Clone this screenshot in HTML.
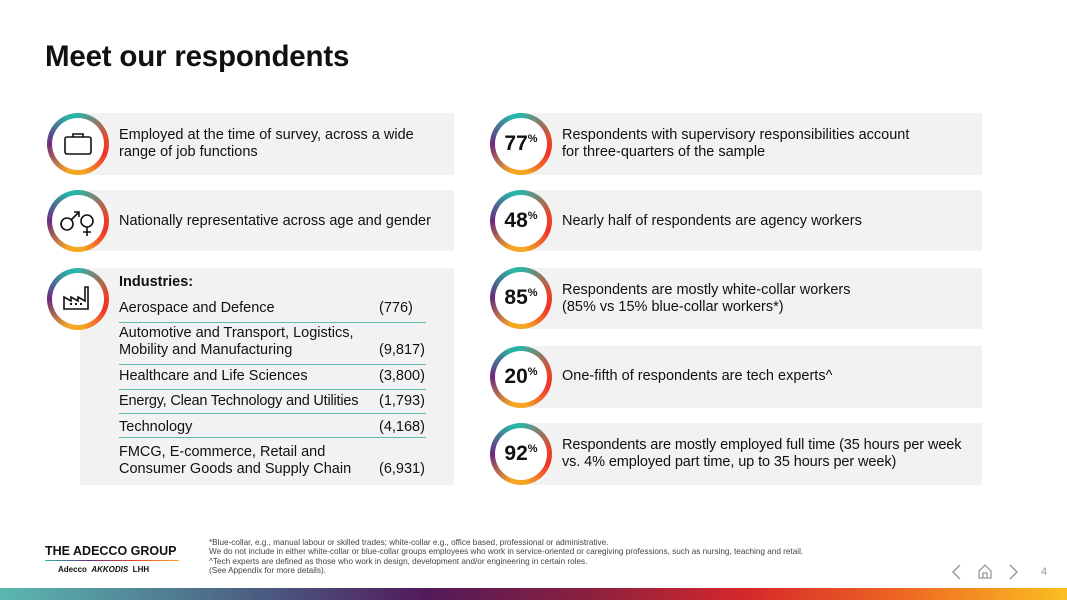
<!DOCTYPE html>
<html><head><meta charset="utf-8"><style>
*{margin:0;padding:0;box-sizing:border-box}
body{width:1067px;height:600px;overflow:hidden;background:#fff;font-family:"Liberation Sans",sans-serif;color:#111;position:relative}
.abs{position:absolute}
h1{position:absolute;left:45px;top:40px;font-size:29.5px;font-weight:bold;letter-spacing:-0.2px}
.card{position:absolute;background:#f2f2f2}
.ring{position:absolute;width:62px;height:62px;border-radius:50%;background:conic-gradient(from 0deg,#2bb3a8 0deg,#e8452a 80deg,#f0302a 110deg,#f5a623 170deg,#f5a623 200deg,#6b2a80 270deg,#2bb3a8 340deg)}
.ring::after{content:"";position:absolute;left:5px;top:5px;right:5px;bottom:5px;border-radius:50%;background:#fff}
.ring>*{position:relative;z-index:1}
.pct{position:absolute;left:0;right:0;top:19px;text-align:center;font-size:21px;font-weight:bold;z-index:2}
.pct sup{font-size:11px;vertical-align:8px}
.t{position:absolute;font-size:14.5px;line-height:17px}
.ln{position:absolute;left:119px;width:307px;height:1px;background:#5fb8b0}
.foot{position:absolute;left:209px;top:538px;font-size:8.2px;line-height:9.4px;color:#444;white-space:nowrap}
</style></head><body>
<h1>Meet our respondents</h1>

<div class="card" style="left:80px;top:113px;width:374px;height:62px"></div>
<div class="card" style="left:80px;top:190px;width:374px;height:61px"></div>
<div class="card" style="left:80px;top:268px;width:374px;height:217px"></div>

<div class="ring" style="left:47px;top:113px">
<svg class="abs" style="left:16px;top:19px;z-index:2" width="30" height="24" viewBox="0 0 30 24"><rect x="2" y="5" width="26" height="17" rx="2" fill="none" stroke="#111" stroke-width="1.6"/><path d="M10 5V2h10v3" fill="none" stroke="#111" stroke-width="1.6"/></svg></div>
<div class="ring" style="left:47px;top:190px">
<svg class="abs" style="left:10px;top:14px;z-index:2" width="42" height="34" viewBox="0 0 42 34"><circle cx="10" cy="20" r="6" fill="none" stroke="#111" stroke-width="1.6"/><path d="M14 16l8-8M17 8h5v5" fill="none" stroke="#111" stroke-width="1.6"/><circle cx="30" cy="17" r="6" fill="none" stroke="#111" stroke-width="1.6"/><path d="M30 23v9M26 28h8" stroke="#111" stroke-width="1.6"/></svg></div>
<div class="ring" style="left:47px;top:268px">
<svg class="abs" style="left:15px;top:15px;z-index:2" width="32" height="30" viewBox="0 0 32 30"><path d="M2 26V14l7 4v-4l7 4v-4l7 4V4h3v22z" fill="none" stroke="#111" stroke-width="1.6"/><rect x="8" y="20" width="2" height="2" fill="#111"/><rect x="13" y="20" width="2" height="2" fill="#111"/><rect x="18" y="20" width="2" height="2" fill="#111"/></svg></div>

<div class="t" style="left:119px;top:127px">Employed at the time of survey, across a wide<br>range of job functions</div>
<div class="t" style="left:119px;top:213px">Nationally representative across age and gender</div>
<div class="t" style="left:119px;top:274px;font-weight:bold">Industries:</div>
<div class="t" style="left:119px;top:300px">Aerospace and Defence</div><div class="t" style="left:379px;top:300px">(776)</div>
<div class="ln" style="top:322px"></div>
<div class="t" style="left:119px;top:325px">Automotive and Transport, Logistics,<br>Mobility and Manufacturing</div><div class="t" style="left:379px;top:342px">(9,817)</div>
<div class="ln" style="top:364px"></div>
<div class="t" style="left:119px;top:368px">Healthcare and Life Sciences</div><div class="t" style="left:379px;top:368px">(3,800)</div>
<div class="ln" style="top:389px"></div>
<div class="t" style="left:119px;top:393px;letter-spacing:-0.2px">Energy, Clean Technology and Utilities</div><div class="t" style="left:379px;top:393px">(1,793)</div>
<div class="ln" style="top:413px"></div>
<div class="t" style="left:119px;top:419px">Technology</div><div class="t" style="left:379px;top:419px">(4,168)</div>
<div class="ln" style="top:437px"></div>
<div class="t" style="left:119px;top:444px">FMCG, E-commerce, Retail and<br>Consumer Goods and Supply Chain</div><div class="t" style="left:379px;top:461px">(6,931)</div>

<div class="card" style="left:523px;top:113px;width:459px;height:62px"></div>
<div class="card" style="left:523px;top:190px;width:459px;height:61px"></div>
<div class="card" style="left:523px;top:268px;width:459px;height:61px"></div>
<div class="card" style="left:523px;top:346px;width:459px;height:62px"></div>
<div class="card" style="left:523px;top:423px;width:459px;height:62px"></div>

<div class="ring" style="left:490px;top:113px"><div class="pct">77<sup>%</sup></div></div>
<div class="ring" style="left:490px;top:190px"><div class="pct">48<sup>%</sup></div></div>
<div class="ring" style="left:490px;top:267px"><div class="pct">85<sup>%</sup></div></div>
<div class="ring" style="left:490px;top:346px"><div class="pct">20<sup>%</sup></div></div>
<div class="ring" style="left:490px;top:423px"><div class="pct">92<sup>%</sup></div></div>

<div class="t" style="left:562px;top:127px">Respondents with supervisory responsibilities account<br>for three-quarters of the sample</div>
<div class="t" style="left:562px;top:213px">Nearly half of respondents are agency workers</div>
<div class="t" style="left:562px;top:282px">Respondents are mostly white-collar workers<br>(85% vs 15% blue-collar workers*)</div>
<div class="t" style="left:562px;top:368px">One-fifth of respondents are tech experts^</div>
<div class="t" style="left:562px;top:437px;letter-spacing:-0.1px">Respondents are mostly employed full time (35 hours per week<br>vs. 4% employed part time, up to 35 hours per week)</div>

<div class="abs" style="left:45px;top:544px;font-size:12.5px;font-weight:bold">THE ADECCO GROUP</div>
<div class="abs" style="left:45px;top:560px;width:134px;height:1px;background:linear-gradient(90deg,#2bb3a8,#6b2a80,#e8452a,#f5a623)"></div>
<div class="abs" style="left:58px;top:565px;font-size:8px;font-weight:bold">Adecco &nbsp;<i>AKKODIS</i> &nbsp;LHH</div>
<div class="foot">*Blue-collar, e.g., manual labour or skilled trades; white-collar e.g., office based, professional or administrative.<br>We do not include in either white-collar or blue-collar groups employees who work in service-oriented or caregiving professions, such as nursing, teaching and retail.<br>^Tech experts are defined as those who work in design, development and/or engineering in certain roles.<br>(See Appendix for more details).</div>
<svg class="abs" style="left:950px;top:563px" width="12" height="18" viewBox="0 0 12 18"><path d="M10 2L3 9l7 7" fill="none" stroke="#999" stroke-width="1.5"/></svg>
<svg class="abs" style="left:977px;top:563px" width="16" height="16" viewBox="0 0 16 16"><path d="M2 8L8 2l6 6v7H2z M6 15v-5h4v5" fill="none" stroke="#999" stroke-width="1.3"/></svg>
<svg class="abs" style="left:1008px;top:563px" width="12" height="18" viewBox="0 0 12 18"><path d="M2 2l7 7-7 7" fill="none" stroke="#999" stroke-width="1.5"/></svg>
<div class="abs" style="left:1041px;top:566px;font-size:11px;color:#999">4</div>
<div class="abs" style="left:0;top:588px;width:1067px;height:12px;background:linear-gradient(90deg,#5bb8b0 0%,#4a5a80 25%,#521a5a 40%,#8a2040 55%,#d6282a 70%,#ee6a22 85%,#fbbf22 100%)"></div>
</body></html>
